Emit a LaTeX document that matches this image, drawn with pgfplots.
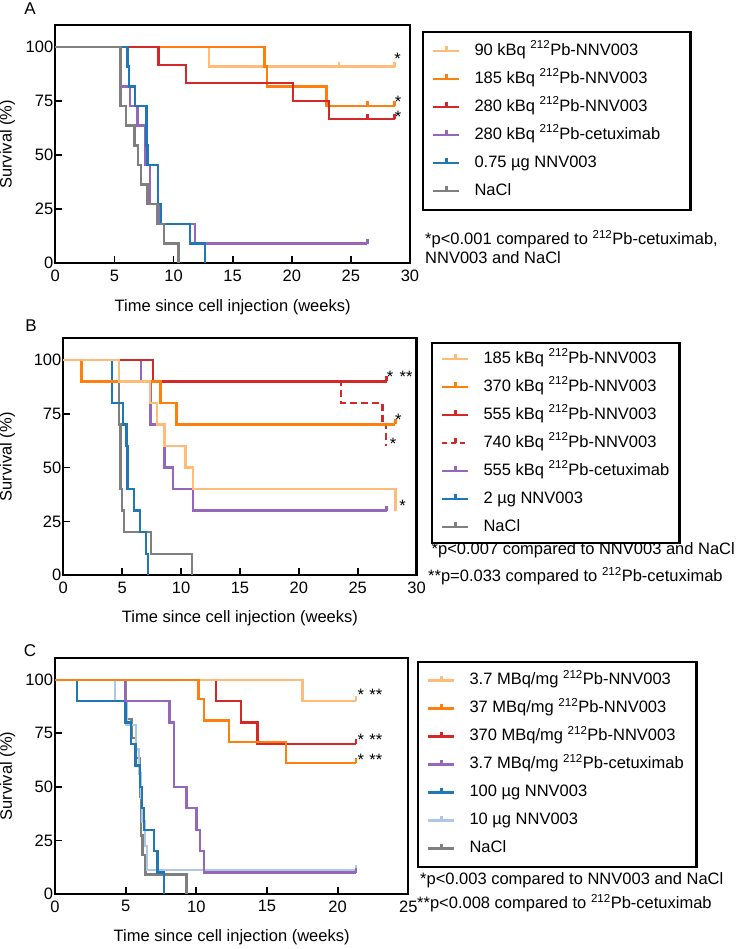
\documentclass[border=0pt]{standalone}
\usepackage{fontspec}
\setmainfont{Liberation Sans}
\usepackage{pgfplots}
\pgfplotsset{compat=1.18}
\newcommand{\fs}{\fontsize{16.5bp}{19bp}\selectfont}
\definecolor{lorange}{RGB}{255,187,120}
\definecolor{orangeB}{RGB}{255,127,14}
\definecolor{redB}{RGB}{214,39,40}
\definecolor{purpleB}{RGB}{148,103,189}
\definecolor{blueB}{RGB}{31,119,180}
\definecolor{grayB}{RGB}{127,127,127}
\definecolor{lblue}{RGB}{174,199,232}
\pgfdeclareplotmark{cens}{\pgfpathmoveto{\pgfpoint{0pt}{0pt}}\pgfpathlineto{\pgfpoint{0pt}{5bp}}\pgfusepathqstroke}
\pgfplotsset{
 kmaxis/.style={
  scale only axis,
  ymin=0, ymax=110,
  ytick={0,25,50,75,100},
  tick align=inside,
  tick pos=left,
  major tick length=7bp,
  axis line style={line width=2.3bp},
  tick style={black, line width=1.8bp},
  tick label style={font=\fs},
  xticklabel style={anchor=north, yshift=-3bp},
  yticklabel style={xshift=1.5bp},
  label style={font=\fs},
  /pgf/number format/assume math mode=true,
  xlabel={Time since cell injection (weeks)},
  ylabel={Survival (\%)},
  xlabel style={at={(axis description cs:0.5,-0.183)}, anchor=center},
  ylabel style={anchor=center},
  clip=false,
  every axis plot/.append style={line width=2.4bp},
  legend cell align=left,
  legend image code/.code={
     \draw[#1] (0bp,0bp) -- (26bp,0bp);
     \draw[#1,solid] (13bp,0bp) -- (13bp,5bp);},
  legend style={font=\fs, draw=black, line width=2.3bp, inner xsep=9bp,
     row sep=12bp, column sep=14bp,
     nodes={inner sep=0bp, text height=12bp, text depth=4bp}},
 },
 km/.style={const plot, line width=2.4bp, mark=none, forget plot},
 cm/.style={only marks, mark=cens, line width=2.4bp, forget plot, mark options={solid}},
}
\newcommand{\astk}[2]{\node[anchor=base, font=\fs, inner sep=0bp] at (axis cs:#1,#2) {*};}
\newcommand{\astkk}[2]{\node[anchor=base, font=\fs, inner sep=0bp] at (axis cs:#1,#2) {**};}
\begin{document}
\begin{tikzpicture}
\useasboundingbox (0,0) rectangle (739bp,949bp);
% ---------------- Panel A ----------------
\begin{axis}[kmaxis, at={(55.3bp,685.7bp)}, anchor=south west,
  width=354.7bp, height=238bp, xmin=0, xmax=30, xtick={0,5,...,30},
  ylabel style={at={(axis description cs:-0.135,0.5)}},
  legend style={at={(axis description cs:1.0338,0.976)}, anchor=north west, inner ysep=11bp}]
\addplot[km, lorange] coordinates {(0,100)(13.0,90.9)(28.7,90.9)};
\addplot[cm, lorange] coordinates {(24.0,90.9)(28.7,90.9)};
\addplot[km, orangeB] coordinates {(0,100)(17.7,90.9)(17.9,81.8)(22.95,72.7)(28.7,72.7)};
\addplot[cm, orangeB] coordinates {(26.4,72.7)(28.7,72.7)};
\addplot[km, redB] coordinates {(0,100)(8.72,91.7)(11.05,83.3)(20.08,75.0)(23.15,66.7)(28.7,66.7)};
\addplot[cm, redB] coordinates {(26.4,66.7)(28.7,66.7)};
\addplot[km, purpleB] coordinates {(0,100)(5.55,81.8)(6.3,72.7)(6.95,63.6)(7.62,45.5)(8.0,27.3)(8.9,18.2)(11.8,9.1)(26.4,9.1)};
\addplot[cm, purpleB] coordinates {(26.4,9.1)};
\addplot[km, blueB] coordinates {(0,100)(6.1,90.9)(6.25,81.8)(6.75,72.7)(7.7,54.5)(7.8,45.5)(8.7,27.3)(8.95,18.2)(11.4,9.1)(12.65,0)};
\addplot[km, grayB] coordinates {(0,100)(5.5,72.7)(5.97,63.6)(6.7,54.5)(7.0,45.5)(7.27,36.4)(7.8,27.3)(8.65,18.2)(9.2,9.1)(10.42,0)};
\astk{28.96}{91.8}
\astk{29.0}{72.0}
\astk{29.0}{65.0}
\addlegendimage{lorange, line width=2.4bp}
\addlegendentry{\makebox[207bp][l]{90 kBq \textsuperscript{212}Pb-NNV003}}
\addlegendimage{orangeB, line width=2.4bp}
\addlegendentry{185 kBq \textsuperscript{212}Pb-NNV003}
\addlegendimage{redB, line width=2.4bp}
\addlegendentry{280 kBq \textsuperscript{212}Pb-NNV003}
\addlegendimage{purpleB, line width=2.4bp}
\addlegendentry{280 kBq \textsuperscript{212}Pb-cetuximab}
\addlegendimage{blueB, line width=2.4bp}
\addlegendentry{0.75 µg NNV003}
\addlegendimage{grayB, line width=2.4bp}
\addlegendentry{NaCl}
\end{axis}
% ---------------- Panel B ----------------
\begin{axis}[kmaxis, at={(63.3bp,373.7bp)}, anchor=south west,
  width=353.3bp, height=237bp, xmin=0, xmax=30, xtick={0,5,...,30},
  ylabel style={at={(axis description cs:-0.158,0.5)}},
  legend style={at={(axis description cs:1.0408,0.9844)}, anchor=north west, inner ysep=8bp}]
\addplot[km, grayB] coordinates {(0,100)(4.72,70)(4.86,40)(5.0,30)(5.14,20)(7.45,10)(10.93,0)};
\addplot[km, blueB] coordinates {(0,100)(4.15,80)(5.05,70)(5.36,60)(5.45,40)(6.0,30)(6.5,20)(7.02,10)(7.17,0)};
\addplot[km, purpleB] coordinates {(0,100)(6.6,90)(7.4,70)(8.58,50)(9.32,40)(11.0,30)(27.45,30)};
\addplot[cm, purpleB] coordinates {(27.45,30)};
\addplot[km, redB, dash pattern=on 7bp off 4bp] coordinates {(0,100)(7.6,90)(23.6,80)(27.1,70)(27.4,60)};
\addplot[km, redB] coordinates {(0,100)(7.6,90)(27.45,90)};
\addplot[cm, redB] coordinates {(27.45,90)};
\addplot[km, orangeB] coordinates {(0,100)(1.55,90)(8.25,80)(9.6,70)(28.2,70)};
\addplot[cm, orangeB] coordinates {(28.2,70)};
\addplot[km, lorange] coordinates {(0,100)(4.71,90)(7.34,80)(7.96,70)(8.58,60)(10.36,50)(11.0,40)(28.2,30)};
\astk{27.74}{89.7}
\astkk{29.1}{89.7}
\astk{28.45}{69.5}
\astk{28.0}{58.3}
\astk{28.8}{29.4}
\addlegendimage{lorange, line width=2.4bp}
\addlegendentry{\makebox[187bp][l]{185 kBq \textsuperscript{212}Pb-NNV003}}
\addlegendimage{orangeB, line width=2.4bp}
\addlegendentry{370 kBq \textsuperscript{212}Pb-NNV003}
\addlegendimage{redB, line width=2.4bp}
\addlegendentry{555 kBq \textsuperscript{212}Pb-NNV003}
\addlegendimage{redB, line width=2.4bp, dash pattern=on 5bp off 4bp}
\addlegendentry{740 kBq \textsuperscript{212}Pb-NNV003}
\addlegendimage{purpleB, line width=2.4bp}
\addlegendentry{555 kBq \textsuperscript{212}Pb-cetuximab}
\addlegendimage{blueB, line width=2.4bp}
\addlegendentry{2 µg NNV003}
\addlegendimage{grayB, line width=2.4bp}
\addlegendentry{NaCl}
\end{axis}
% ---------------- Panel C ----------------
\begin{axis}[kmaxis, at={(55bp,55bp)}, anchor=south west,
  width=353.3bp, height=235.7bp, xmin=0, xmax=25, xtick={0,5,...,25},
  ylabel style={at={(axis description cs:-0.134,0.5)}},
  legend style={at={(axis description cs:1.0246,0.9885)}, anchor=north west, inner ysep=10.5bp}]
\addplot[km, grayB] coordinates {(0,100)(5.0,81.8)(5.4,72.7)(5.75,63.6)(6.0,45.5)(6.1,27.3)(6.2,18.2)(6.4,9.1)(9.3,0)};
\addplot[km, lblue] coordinates {(0,100)(4.23,90)(5.05,78.75)(5.72,67.5)(5.95,56.25)(6.08,45)(6.15,33.75)(6.35,22.5)(6.52,11.25)(21.3,11.25)};
\addplot[cm, lblue] coordinates {(21.3,11.25)};
\addplot[km, blueB] coordinates {(0,100)(1.55,90)(5.0,80)(5.38,70)(5.7,60)(6.0,50)(6.15,40)(6.3,30)(7.02,20)(7.25,10)(7.72,0)};
\addplot[km, purpleB] coordinates {(0,100)(4.97,90)(8.09,80)(8.42,50)(9.3,40)(10.0,30)(10.26,20)(10.54,10)(21.3,10)};
\addplot[cm, purpleB] coordinates {(21.3,10)};
\addplot[km, redB] coordinates {(0,100)(11.4,90)(13.16,80)(14.32,70)(21.3,70)};
\addplot[cm, redB] coordinates {(21.3,70)};
\addplot[km, lorange] coordinates {(0,100)(17.5,90)(21.3,90)};
\addplot[cm, lorange] coordinates {(21.3,90)};
\addplot[km, orangeB] coordinates {(0,100)(10.15,91)(10.55,81)(12.31,71)(16.33,61)(21.3,61)};
\addplot[cm, orangeB] coordinates {(21.3,61)};
\astk{21.65}{90.1}
\astkk{22.7}{90.1}
\astk{21.65}{69.4}
\astkk{22.7}{69.4}
\astk{21.65}{60.1}
\astkk{22.7}{60.1}
\addlegendimage{lorange, line width=2.4bp}
\addlegendentry{\makebox[218bp][l]{3.7 MBq/mg \textsuperscript{212}Pb-NNV003}}
\addlegendimage{orangeB, line width=2.4bp}
\addlegendentry{37 MBq/mg \textsuperscript{212}Pb-NNV003}
\addlegendimage{redB, line width=2.4bp}
\addlegendentry{370 MBq/mg \textsuperscript{212}Pb-NNV003}
\addlegendimage{purpleB, line width=2.4bp}
\addlegendentry{3.7 MBq/mg \textsuperscript{212}Pb-cetuximab}
\addlegendimage{blueB, line width=2.4bp}
\addlegendentry{100 µg NNV003}
\addlegendimage{lblue, line width=2.4bp}
\addlegendentry{10 µg NNV003}
\addlegendimage{grayB, line width=2.4bp}
\addlegendentry{NaCl}
\end{axis}
% ---------------- texts outside the axes ----------------
\node[anchor=base, font=\fontsize{17bp}{20bp}\selectfont, inner sep=0bp] at (30bp,934bp) {A};
\node[anchor=base, font=\fontsize{17bp}{20bp}\selectfont, inner sep=0bp] at (31bp,617bp) {B};
\node[anchor=base, font=\fontsize{17bp}{20bp}\selectfont, inner sep=0bp] at (30bp,292bp) {C};
\node[anchor=base west, font=\fs, inner sep=0bp] at (425bp,704.5bp) {*p<0.001 compared to \textsuperscript{212}Pb-cetuximab,};
\node[anchor=base west, font=\fs, inner sep=0bp] at (425bp,685bp) {NNV003 and NaCl};
\node[anchor=base west, font=\fs, inner sep=0bp] at (431.5bp,394.5bp) {*p<0.007 compared to NNV003 and NaCl};
\node[anchor=base west, font=\fs, inner sep=0bp] at (428bp,367bp) {**p=0.033 compared to \textsuperscript{212}Pb-cetuximab};
\node[anchor=base west, font=\fs, inner sep=0bp] at (420bp,64.5bp) {*p<0.003 compared to NNV003 and NaCl};
\node[anchor=base west, font=\fs, inner sep=0bp] at (417bp,40.5bp) {**p<0.008 compared to \textsuperscript{212}Pb-cetuximab};
\end{tikzpicture}
\end{document}
